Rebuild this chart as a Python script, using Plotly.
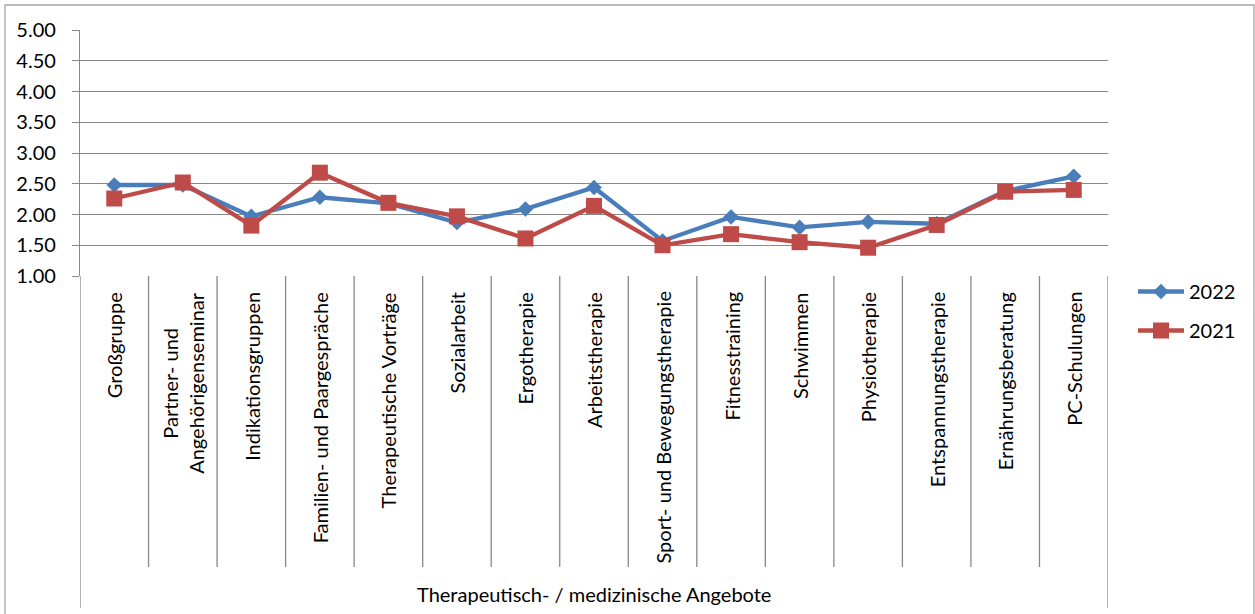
import plotly.graph_objects as go

# Angebote (categories) and mean ratings per year
categories = [
    "Großgruppe",
    "Partner- und<br>Angehörigenseminar",
    "Indikationsgruppen",
    "Familien- und Paargespräche",
    "Therapeutische Vorträge",
    "Sozialarbeit",
    "Ergotherapie",
    "Arbeitstherapie",
    "Sport- und Bewegungstherapie",
    "Fitnesstraining",
    "Schwimmen",
    "Physiotherapie",
    "Entspannungstherapie",
    "Ernährungsberatung",
    "PC-Schulungen",
]
values_2022 = [2.48, 2.48, 1.97, 2.28, 2.18, 1.87, 2.09, 2.44, 1.57, 1.96, 1.79, 1.88, 1.85, 2.38, 2.62]
values_2021 = [2.26, 2.52, 1.82, 2.68, 2.19, 1.97, 1.61, 2.14, 1.50, 1.68, 1.55, 1.46, 1.83, 2.37, 2.40]
y_ticks = [1.0, 1.5, 2.0, 2.5, 3.0, 3.5, 4.0, 4.5, 5.0]
group_label = "Therapeutisch- / medizinische Angebote"

FONT = "Lato"
FS = 20
GRID = "#898989"
BLUE = "#4A7EBB"
RED = "#BE4B48"

W, H = 1255, 614
L, R, T, B = 80, 147, 30, 338
plot_w = W - L - R
plot_h = H - T - B


def py(px):
    """Convert a pixel row to paper y."""
    return (H - B - px) / plot_h


def px_paper(px):
    return (px - L) / plot_w


xs = list(range(len(categories)))

fig = go.Figure()
fig.add_trace(go.Scatter(
    x=xs, y=values_2022, name="2022", mode="lines+markers",
    line=dict(color=BLUE, width=4.3),
    marker=dict(symbol="diamond", size=12, color=BLUE),
    legendgroup="a",
))
fig.add_trace(go.Scatter(
    x=xs, y=values_2021, name="2021", mode="lines+markers",
    line=dict(color=RED, width=4.3),
    marker=dict(symbol="square", size=16, color=RED),
    legendgroup="b",
))

shapes = []
n = len(categories)
# category separators below the axis
for k in range(n + 1):
    edge = k in (0, n)
    shapes.append(dict(
        type="line", xref="x", yref="paper",
        x0=k - 0.5, x1=k - 0.5, y0=0, y1=py(608 if edge else 567),
        line=dict(color=GRID, width=1.3),
    ))
# outer chart border
shapes.append(dict(
    type="rect", xref="paper", yref="paper",
    x0=px_paper(5), x1=px_paper(1254), y0=py(5), y1=py(630),
    line=dict(color="#A6A6A6", width=1.3), layer="below",
))

annotations = []
for i, c in enumerate(categories):
    annotations.append(dict(
        x=i, xref="x", y=py(290), yref="paper",
        text=c, showarrow=False, textangle=-90,
        xanchor="center", yanchor="top", align="center",
        font=dict(family=FONT, size=FS, color="#000000"),
    ))
annotations.append(dict(
    x=(n - 1) / 2, xref="x", y=py(594), yref="paper",
    text=group_label, showarrow=False,
    xanchor="center", yanchor="middle",
    font=dict(family=FONT, size=FS, color="#000000"),
))

fig.update_layout(
    width=W, height=H,
    margin=dict(l=L, r=R, t=T, b=B, pad=0),
    paper_bgcolor="white", plot_bgcolor="white",
    font=dict(family=FONT, size=FS, color="#000000"),
    showlegend=True,
    legend=dict(
        x=px_paper(1133), y=py(272), xanchor="left", yanchor="top",
        font=dict(family=FONT, size=FS, color="#000000"),
        tracegroupgap=10, itemwidth=46, bgcolor="rgba(0,0,0,0)",
    ),
    xaxis=dict(
        range=[-0.5, n - 0.5], showticklabels=False, showgrid=False,
        zeroline=False, showline=False, ticks="",
    ),
    yaxis=dict(
        range=[1, 5], tickvals=y_ticks, tickformat=".2f",
        showgrid=True, gridcolor=GRID, gridwidth=1.3,
        zeroline=False, showline=True, linecolor=GRID, linewidth=1.3,
        ticks="outside", ticklen=7, tickcolor=GRID, tickwidth=1.3,
        ticklabelstandoff=12,
        tickfont=dict(family=FONT, size=FS, color="#000000"),
    ),
    shapes=shapes,
    annotations=annotations,
)

fig.write_html("out.html")
